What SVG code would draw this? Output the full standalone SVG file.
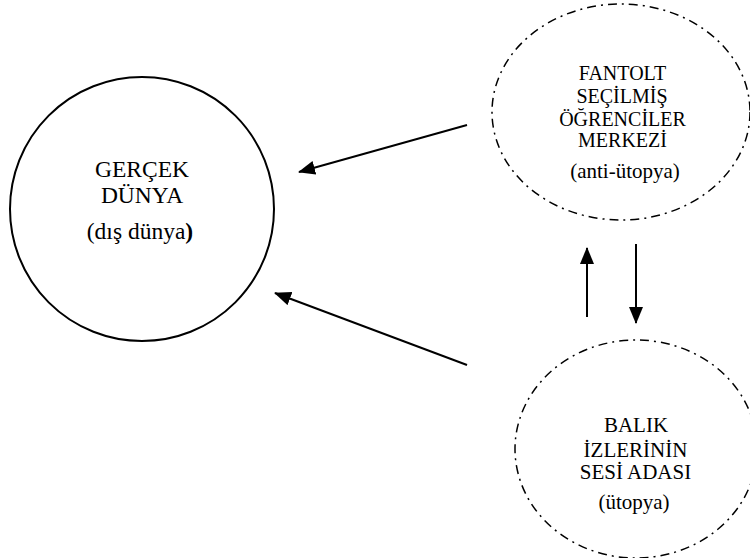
<svg xmlns="http://www.w3.org/2000/svg" width="750" height="558" viewBox="0 0 750 558">
<style>
.t{font-family:"Liberation Serif","Times New Roman",serif;fill:#000;text-anchor:middle}
.s20{font-size:20px}
.s21{font-size:21px}
.s23{font-size:23.5px}
.solid{fill:none;stroke:#000;stroke-width:2}
.dd{fill:none;stroke:#000;stroke-width:1.5;stroke-dasharray:9 5 2 5}
.ar{fill:none;stroke:#000;stroke-width:2;marker-end:url(#ah)}
</style>
<defs>
<marker id="ah" markerUnits="userSpaceOnUse" markerWidth="17" markerHeight="15" refX="16" refY="7" orient="auto">
<path d="M0,0 L17,7 L0,14 Z" fill="#000"/>
</marker>
</defs>
<rect width="750" height="558" fill="#fff"/>
<g id="gercek">
<circle class="solid" cx="142" cy="209" r="132"/>
<text class="t s23" x="142" y="176.5">GERÇEK</text>
<text class="t s23" x="142" y="203">DÜNYA</text>
<text class="t s23" x="140" y="238.5">(dış dünya<tspan font-weight="bold">)</tspan></text>
</g>
<g id="fantolt">
<ellipse class="dd" cx="621" cy="112" rx="129" ry="108"/>
<text class="t s20" x="622.5" y="80">FANTOLT</text>
<text class="t s20" x="622" y="103">SEÇİLMİŞ</text>
<text class="t s20" x="622.5" y="125.5">ÖĞRENCİLER</text>
<text class="t s20" x="622.5" y="147">MERKEZİ</text>
<text class="t s21" x="625" y="178">(anti-ütopya)</text>
</g>
<g id="balik">
<ellipse class="dd" cx="636" cy="449" rx="121" ry="109"/>
<text class="t s21" x="636" y="432">BALIK</text>
<text class="t s21" x="635.5" y="456.5">İZLERİNİN</text>
<text class="t s21" x="635.5" y="478.5">SESİ ADASI</text>
<text class="t s21" x="634" y="508.5">(ütopya)</text>
</g>
<g id="connectors">
<line class="ar" x1="467" y1="125" x2="299" y2="172"/>
<line class="ar" x1="467" y1="365" x2="275" y2="293"/>
<line class="ar" x1="587" y1="317" x2="587" y2="248"/>
<line class="ar" x1="636" y1="244" x2="636" y2="323"/>
</g>
</svg>
